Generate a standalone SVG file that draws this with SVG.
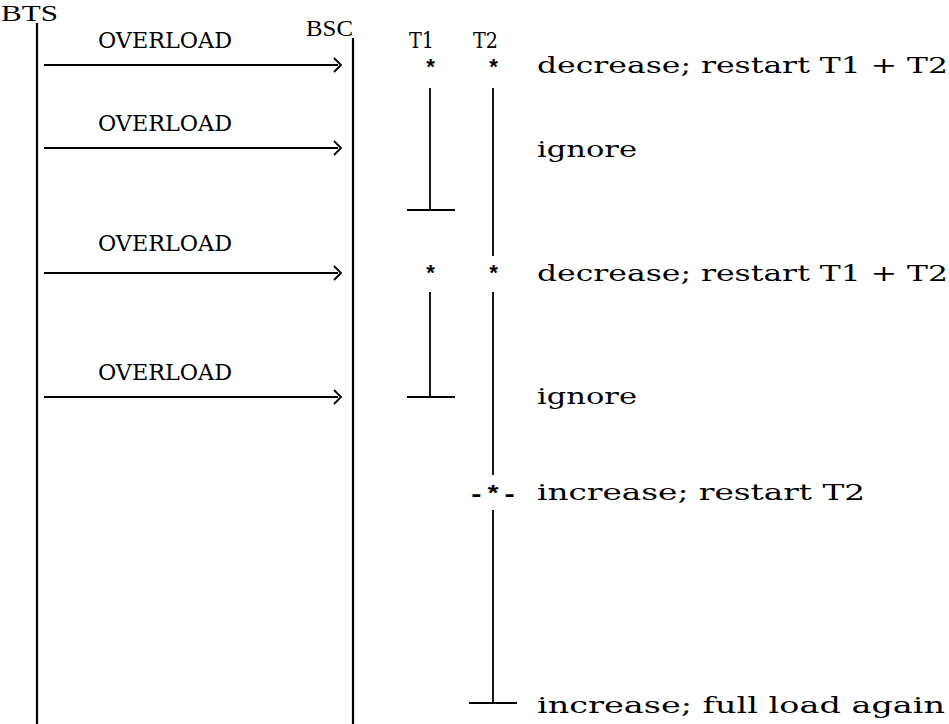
<svg xmlns="http://www.w3.org/2000/svg" width="949" height="724" viewBox="0 0 949 724">
<style>
.lbl{font-family:"Liberation Serif",serif;font-size:24px;fill:#000}
.mono{font-family:"DejaVu Serif",serif;font-size:22px;fill:#000}
.star{font-family:"Liberation Mono",monospace;font-size:22px;font-weight:bold;fill:#000}
.life{stroke:#000;stroke-width:2.2;fill:none}
.msg{stroke:#000;stroke-width:1.8;fill:none}
.tmr{stroke:#000;stroke-width:1.8;fill:none}
</style>
<rect width="949" height="724" fill="#fff"/>
<g id="bts">
<text class="lbl" x="1" y="21" textLength="57" lengthAdjust="spacingAndGlyphs">BTS</text>
<line class="life" x1="37" y1="23" x2="37" y2="724"/>
</g>
<g id="bsc">
<text class="lbl" x="306" y="36" textLength="47" lengthAdjust="spacingAndGlyphs">BSC</text>
<line class="life" x1="353" y1="38" x2="353" y2="724"/>
</g>
<g id="timer-labels">
<text class="mono" x="409" y="48" textLength="25" lengthAdjust="spacingAndGlyphs">T1</text>
<text class="mono" x="473" y="48" textLength="25" lengthAdjust="spacingAndGlyphs">T2</text>
</g>
<g id="connectors">
<g id="msg1">
<text class="mono" x="98" y="48" textLength="134" lengthAdjust="spacingAndGlyphs">OVERLOAD</text>
<line class="msg" x1="44" y1="65" x2="338" y2="65"/>
<polyline class="msg" points="334,58 341,65 334,72"/>
</g>
<g id="msg2">
<text class="mono" x="98" y="131" textLength="134" lengthAdjust="spacingAndGlyphs">OVERLOAD</text>
<line class="msg" x1="44" y1="148" x2="338" y2="148"/>
<polyline class="msg" points="334,141 341,148 334,155"/>
</g>
<g id="msg3">
<text class="mono" x="98" y="251" textLength="134" lengthAdjust="spacingAndGlyphs">OVERLOAD</text>
<line class="msg" x1="44" y1="273" x2="338" y2="273"/>
<polyline class="msg" points="334,266 341,273 334,280"/>
</g>
<g id="msg4">
<text class="mono" x="98" y="380" textLength="134" lengthAdjust="spacingAndGlyphs">OVERLOAD</text>
<line class="msg" x1="44" y1="397" x2="338" y2="397"/>
<polyline class="msg" points="334,390 341,397 334,404"/>
</g>
</g>
<g id="t1">
<text class="star" x="424" y="75">*</text>
<line class="tmr" x1="430" y1="88" x2="430" y2="210"/>
<line class="tmr" x1="407" y1="210" x2="455" y2="210"/>
<text class="star" x="424" y="281">*</text>
<line class="tmr" x1="430" y1="292" x2="430" y2="397"/>
<line class="tmr" x1="407" y1="397" x2="455" y2="397"/>
</g>
<g id="t2">
<text class="star" x="487" y="75">*</text>
<line class="tmr" x1="493" y1="88" x2="493" y2="256"/>
<text class="star" x="487" y="281">*</text>
<line class="tmr" x1="493" y1="292" x2="493" y2="475"/>
<text class="star" x="468" y="501" textLength="50" lengthAdjust="spacingAndGlyphs">-*-</text>
<line class="tmr" x1="493" y1="510" x2="493" y2="703"/>
<line class="tmr" x1="469" y1="703" x2="517" y2="703"/>
</g>
<g id="notes">
<text class="mono" x="537" y="73" textLength="411" lengthAdjust="spacingAndGlyphs">decrease; restart T1 + T2</text>
<text class="mono" x="537" y="157" textLength="100" lengthAdjust="spacingAndGlyphs">ignore</text>
<text class="mono" x="537" y="281" textLength="411" lengthAdjust="spacingAndGlyphs">decrease; restart T1 + T2</text>
<text class="mono" x="537" y="404" textLength="100" lengthAdjust="spacingAndGlyphs">ignore</text>
<text class="mono" x="537" y="500" textLength="328" lengthAdjust="spacingAndGlyphs">increase; restart T2</text>
<text class="mono" x="537" y="713" textLength="408" lengthAdjust="spacingAndGlyphs">increase; full load again</text>
</g>
</svg>
